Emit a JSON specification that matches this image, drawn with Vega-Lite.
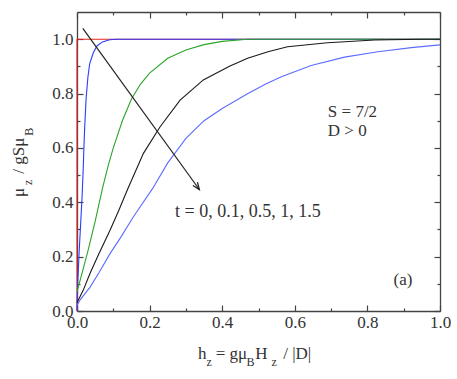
{
  "$schema": "https://vega.github.io/schema/vega-lite/v6.json",
  "autosize": {"type": "none"},
  "width": 363,
  "height": 299,
  "padding": {"left": 77, "top": 12, "right": 17, "bottom": 68},
  "background": "white",
  "config": {"view": {"stroke": null}, "font": "Liberation Serif", "axis": {"labelFont": "Liberation Serif"}, "text": {"font": "Liberation Serif"}},
  "data": {"values": [{}]},
  "datasets": {
    "curves": [
      {"t": "0", "i": 0, "h": 0, "m": 0},
      {"t": "0", "i": 1, "h": 0, "m": 1},
      {"t": "0", "i": 2, "h": 1, "m": 1},
      {"t": "0.1", "i": 0, "h": 0, "m": 0},
      {"t": "0.1", "i": 1, "h": 0.002, "m": 0.1},
      {"t": "0.1", "i": 2, "h": 0.006, "m": 0.22},
      {"t": "0.1", "i": 3, "h": 0.01, "m": 0.32},
      {"t": "0.1", "i": 4, "h": 0.014, "m": 0.42},
      {"t": "0.1", "i": 5, "h": 0.017, "m": 0.52},
      {"t": "0.1", "i": 6, "h": 0.019, "m": 0.6},
      {"t": "0.1", "i": 7, "h": 0.021, "m": 0.67},
      {"t": "0.1", "i": 8, "h": 0.025, "m": 0.78},
      {"t": "0.1", "i": 9, "h": 0.03, "m": 0.86},
      {"t": "0.1", "i": 10, "h": 0.035, "m": 0.91},
      {"t": "0.1", "i": 11, "h": 0.045, "m": 0.95},
      {"t": "0.1", "i": 12, "h": 0.055, "m": 0.975},
      {"t": "0.1", "i": 13, "h": 0.07, "m": 0.99},
      {"t": "0.1", "i": 14, "h": 0.09, "m": 0.998},
      {"t": "0.1", "i": 15, "h": 0.11, "m": 1.0},
      {"t": "0.1", "i": 16, "h": 1.0, "m": 1.0},
      {"t": "0.5", "i": 0, "h": 0, "m": 0.07},
      {"t": "0.5", "i": 1, "h": 0.01, "m": 0.12},
      {"t": "0.5", "i": 2, "h": 0.02, "m": 0.17},
      {"t": "0.5", "i": 3, "h": 0.03, "m": 0.22},
      {"t": "0.5", "i": 4, "h": 0.05, "m": 0.33},
      {"t": "0.5", "i": 5, "h": 0.07, "m": 0.45},
      {"t": "0.5", "i": 6, "h": 0.085, "m": 0.53},
      {"t": "0.5", "i": 7, "h": 0.1, "m": 0.6},
      {"t": "0.5", "i": 8, "h": 0.125, "m": 0.7},
      {"t": "0.5", "i": 9, "h": 0.15, "m": 0.78},
      {"t": "0.5", "i": 10, "h": 0.175, "m": 0.835},
      {"t": "0.5", "i": 11, "h": 0.2, "m": 0.875},
      {"t": "0.5", "i": 12, "h": 0.25, "m": 0.93},
      {"t": "0.5", "i": 13, "h": 0.3, "m": 0.96},
      {"t": "0.5", "i": 14, "h": 0.35, "m": 0.98},
      {"t": "0.5", "i": 15, "h": 0.4, "m": 0.992},
      {"t": "0.5", "i": 16, "h": 0.47, "m": 1.0},
      {"t": "0.5", "i": 17, "h": 1.0, "m": 1.0},
      {"t": "1", "i": 0, "h": 0, "m": 0.03},
      {"t": "1", "i": 1, "h": 0.017, "m": 0.076},
      {"t": "1", "i": 2, "h": 0.036, "m": 0.139},
      {"t": "1", "i": 3, "h": 0.06, "m": 0.21},
      {"t": "1", "i": 4, "h": 0.091, "m": 0.297},
      {"t": "1", "i": 5, "h": 0.115, "m": 0.37},
      {"t": "1", "i": 6, "h": 0.14, "m": 0.45},
      {"t": "1", "i": 7, "h": 0.183, "m": 0.58},
      {"t": "1", "i": 8, "h": 0.229, "m": 0.678},
      {"t": "1", "i": 9, "h": 0.284, "m": 0.776},
      {"t": "1", "i": 10, "h": 0.348, "m": 0.85},
      {"t": "1", "i": 11, "h": 0.42, "m": 0.9},
      {"t": "1", "i": 12, "h": 0.47, "m": 0.93},
      {"t": "1", "i": 13, "h": 0.526, "m": 0.954},
      {"t": "1", "i": 14, "h": 0.58, "m": 0.972},
      {"t": "1", "i": 15, "h": 0.69, "m": 0.987},
      {"t": "1", "i": 16, "h": 0.82, "m": 0.997},
      {"t": "1", "i": 17, "h": 0.95, "m": 1.0},
      {"t": "1", "i": 18, "h": 1.0, "m": 1.0},
      {"t": "1.5", "i": 0, "h": 0, "m": 0.02},
      {"t": "1.5", "i": 1, "h": 0.008, "m": 0.04},
      {"t": "1.5", "i": 2, "h": 0.036, "m": 0.088},
      {"t": "1.5", "i": 3, "h": 0.06, "m": 0.14},
      {"t": "1.5", "i": 4, "h": 0.091, "m": 0.211},
      {"t": "1.5", "i": 5, "h": 0.12, "m": 0.27},
      {"t": "1.5", "i": 6, "h": 0.155, "m": 0.346},
      {"t": "1.5", "i": 7, "h": 0.208, "m": 0.45},
      {"t": "1.5", "i": 8, "h": 0.25, "m": 0.545},
      {"t": "1.5", "i": 9, "h": 0.3, "m": 0.635},
      {"t": "1.5", "i": 10, "h": 0.35, "m": 0.7},
      {"t": "1.5", "i": 11, "h": 0.4, "m": 0.745},
      {"t": "1.5", "i": 12, "h": 0.471, "m": 0.8},
      {"t": "1.5", "i": 13, "h": 0.52, "m": 0.835},
      {"t": "1.5", "i": 14, "h": 0.563, "m": 0.862},
      {"t": "1.5", "i": 15, "h": 0.645, "m": 0.903},
      {"t": "1.5", "i": 16, "h": 0.737, "m": 0.934},
      {"t": "1.5", "i": 17, "h": 0.829, "m": 0.954},
      {"t": "1.5", "i": 18, "h": 0.921, "m": 0.969},
      {"t": "1.5", "i": 19, "h": 1.0, "m": 0.979}
    ]
  },
  "resolve": {"axis": {"x": "independent", "y": "independent"}},
  "layer": [
    {
      "data": {"name": "curves"},
      "mark": {"type": "line", "strokeWidth": 1.1},
      "encoding": {
        "x": {
          "field": "h", "type": "quantitative",
          "scale": {"domain": [0, 1], "nice": false, "zero": false},
          "axis": {
            "orient": "bottom", "title": null, "grid": false,
            "values": [0, 0.1, 0.2, 0.3, 0.4, 0.5, 0.6, 0.7, 0.8, 0.9, 1.0],
            "labelExpr": "round(datum.value*10) % 2 == 0 ? format(datum.value, '.1f') : ''",
            "tickSize": {"condition": {"test": "round(datum.value*10) % 2 == 0", "value": -6}, "value": -3},
            "labelFlush": false, "labelOverlap": false,
            "labelFont": "Liberation Serif", "labelFontSize": 17, "labelColor": "#333",
            "labelPadding": 9,
            "domainColor": "#444", "domainWidth": 1.3, "tickColor": "#444", "tickWidth": 1.2
          }
        },
        "y": {
          "field": "m", "type": "quantitative",
          "scale": {"domain": [0, 1.1], "nice": false, "zero": false},
          "axis": {
            "orient": "left", "title": null, "grid": false,
            "values": [0, 0.1, 0.2, 0.3, 0.4, 0.5, 0.6, 0.7, 0.8, 0.9, 1.0],
            "labelExpr": "round(datum.value*10) % 2 == 0 ? format(datum.value, '.1f') : ''",
            "tickSize": {"condition": {"test": "round(datum.value*10) % 2 == 0", "value": -6}, "value": -3},
            "labelOverlap": false, "labelFlush": false,
            "labelFont": "Liberation Serif", "labelFontSize": 17, "labelColor": "#333",
            "labelPadding": 10,
            "domainColor": "#444", "domainWidth": 1.3, "tickColor": "#444", "tickWidth": 1.2
          }
        },
        "color": {
          "field": "t", "type": "nominal", "legend": null,
          "scale": {"domain": ["0", "0.1", "0.5", "1", "1.5"], "range": ["#e8231f", "#2a3cff", "#2aa52a", "#1a1a1a", "#5c6cff"]}
        },
        "order": {"field": "i", "type": "quantitative"}
      }
    },
    {
      "data": {"name": "curves"},
      "mark": {"type": "point", "opacity": 0},
      "encoding": {
        "x": {
          "field": "h", "type": "quantitative",
          "scale": {"domain": [0, 1], "nice": false, "zero": false},
          "axis": {
            "orient": "top", "title": null, "grid": false, "labels": false,
            "values": [0, 0.1, 0.2, 0.3, 0.4, 0.5, 0.6, 0.7, 0.8, 0.9, 1.0],
            "tickSize": {"condition": {"test": "round(datum.value*10) % 2 == 0", "value": -6}, "value": -3},
            "domainColor": "#444", "domainWidth": 1.3, "tickColor": "#444", "tickWidth": 1.2
          }
        },
        "y": {
          "field": "m", "type": "quantitative",
          "scale": {"domain": [0, 1.1], "nice": false, "zero": false},
          "axis": {
            "orient": "right", "title": null, "grid": false, "labels": false,
            "values": [0, 0.1, 0.2, 0.3, 0.4, 0.5, 0.6, 0.7, 0.8, 0.9, 1.0],
            "tickSize": {"condition": {"test": "round(datum.value*10) % 2 == 0", "value": -6}, "value": -3},
            "domainColor": "#444", "domainWidth": 1.3, "tickColor": "#444", "tickWidth": 1.2
          }
        }
      }
    },
    {
      "mark": {"type": "rule", "color": "#222", "strokeWidth": 1.2},
      "encoding": {
        "x": {"datum": 0.016, "type": "quantitative", "axis": null, "scale": {"domain": [0, 1]}},
        "y": {"datum": 1.04, "type": "quantitative", "axis": null, "scale": {"domain": [0, 1.1]}},
        "x2": {"datum": 0.337},
        "y2": {"datum": 0.447}
      }
    },
    {
      "mark": {"type": "point", "shape": "M -0.4 1 L 0 0 L 0.4 1", "filled": false, "stroke": "#222", "strokeWidth": 1.3, "size": 200, "angle": 144, "opacity": 1},
      "encoding": {
        "x": {"datum": 0.337, "type": "quantitative", "axis": null, "scale": {"domain": [0, 1]}},
        "y": {"datum": 0.447, "type": "quantitative", "axis": null, "scale": {"domain": [0, 1.1]}}
      }
    },
    {
      "mark": {"type": "text", "font": "Liberation Serif", "fontSize": 17, "align": "left", "baseline": "alphabetic", "color": "#333"},
      "encoding": {
        "x": {"datum": 0.691, "type": "quantitative", "axis": null, "scale": {"domain": [0, 1]}},
        "y": {"datum": 0.713, "type": "quantitative", "axis": null, "scale": {"domain": [0, 1.1]}},
        "text": {"value": "S = 7/2"}
      }
    },
    {
      "mark": {"type": "text", "font": "Liberation Serif", "fontSize": 17, "align": "left", "baseline": "alphabetic", "color": "#333"},
      "encoding": {
        "x": {"datum": 0.691, "type": "quantitative", "axis": null, "scale": {"domain": [0, 1]}},
        "y": {"datum": 0.644, "type": "quantitative", "axis": null, "scale": {"domain": [0, 1.1]}},
        "text": {"value": "D > 0"}
      }
    },
    {
      "mark": {"type": "text", "font": "Liberation Serif", "fontSize": 18, "align": "left", "baseline": "alphabetic", "color": "#333"},
      "encoding": {
        "x": {"datum": 0.27, "type": "quantitative", "axis": null, "scale": {"domain": [0, 1]}},
        "y": {"datum": 0.345, "type": "quantitative", "axis": null, "scale": {"domain": [0, 1.1]}},
        "text": {"value": "t = 0, 0.1, 0.5, 1, 1.5"}
      }
    },
    {
      "mark": {"type": "text", "font": "Liberation Serif", "fontSize": 17, "align": "left", "baseline": "alphabetic", "color": "#333"},
      "encoding": {
        "x": {"datum": 0.872, "type": "quantitative", "axis": null, "scale": {"domain": [0, 1]}},
        "y": {"datum": 0.096, "type": "quantitative", "axis": null, "scale": {"domain": [0, 1.1]}},
        "text": {"value": "(a)"}
      }
    },
    {
      "mark": {"type": "text", "font": "Liberation Serif", "fontSize": 17, "align": "left", "baseline": "alphabetic", "color": "#333"},
      "encoding": {
        "x": {"datum": 0.333, "type": "quantitative", "axis": null, "scale": {"domain": [0, 1]}},
        "y": {"datum": -0.177, "type": "quantitative", "axis": null, "scale": {"domain": [0, 1.1]}},
        "text": {"value": "h"}
      }
    },
    {
      "mark": {"type": "text", "font": "Liberation Serif", "fontSize": 12, "align": "left", "baseline": "alphabetic", "color": "#333"},
      "encoding": {
        "x": {"datum": 0.357, "type": "quantitative", "axis": null, "scale": {"domain": [0, 1]}},
        "y": {"datum": -0.202, "type": "quantitative", "axis": null, "scale": {"domain": [0, 1.1]}},
        "text": {"value": "z"}
      }
    },
    {
      "mark": {"type": "text", "font": "Liberation Serif", "fontSize": 17, "align": "left", "baseline": "alphabetic", "color": "#333"},
      "encoding": {
        "x": {"datum": 0.382, "type": "quantitative", "axis": null, "scale": {"domain": [0, 1]}},
        "y": {"datum": -0.177, "type": "quantitative", "axis": null, "scale": {"domain": [0, 1.1]}},
        "text": {"value": "= gμ"}
      }
    },
    {
      "mark": {"type": "text", "font": "Liberation Serif", "fontSize": 12, "align": "left", "baseline": "alphabetic", "color": "#333"},
      "encoding": {
        "x": {"datum": 0.467, "type": "quantitative", "axis": null, "scale": {"domain": [0, 1]}},
        "y": {"datum": -0.202, "type": "quantitative", "axis": null, "scale": {"domain": [0, 1.1]}},
        "text": {"value": "B"}
      }
    },
    {
      "mark": {"type": "text", "font": "Liberation Serif", "fontSize": 17, "align": "left", "baseline": "alphabetic", "color": "#333"},
      "encoding": {
        "x": {"datum": 0.491, "type": "quantitative", "axis": null, "scale": {"domain": [0, 1]}},
        "y": {"datum": -0.177, "type": "quantitative", "axis": null, "scale": {"domain": [0, 1.1]}},
        "text": {"value": "H"}
      }
    },
    {
      "mark": {"type": "text", "font": "Liberation Serif", "fontSize": 12, "align": "left", "baseline": "alphabetic", "color": "#333"},
      "encoding": {
        "x": {"datum": 0.536, "type": "quantitative", "axis": null, "scale": {"domain": [0, 1]}},
        "y": {"datum": -0.202, "type": "quantitative", "axis": null, "scale": {"domain": [0, 1.1]}},
        "text": {"value": "z"}
      }
    },
    {
      "mark": {"type": "text", "font": "Liberation Serif", "fontSize": 17, "align": "left", "baseline": "alphabetic", "color": "#333"},
      "encoding": {
        "x": {"datum": 0.568, "type": "quantitative", "axis": null, "scale": {"domain": [0, 1]}},
        "y": {"datum": -0.177, "type": "quantitative", "axis": null, "scale": {"domain": [0, 1.1]}},
        "text": {"value": "/ |D|"}
      }
    },
    {
      "mark": {"type": "text", "font": "Liberation Serif", "fontSize": 17, "align": "left", "baseline": "alphabetic", "color": "#333", "angle": 270},
      "encoding": {
        "x": {"datum": -0.146, "type": "quantitative", "axis": null, "scale": {"domain": [0, 1]}},
        "y": {"datum": 0.419, "type": "quantitative", "axis": null, "scale": {"domain": [0, 1.1]}},
        "text": {"value": "μ"}
      }
    },
    {
      "mark": {"type": "text", "font": "Liberation Serif", "fontSize": 12, "align": "left", "baseline": "alphabetic", "color": "#333", "angle": 270},
      "encoding": {
        "x": {"datum": -0.124, "type": "quantitative", "axis": null, "scale": {"domain": [0, 1]}},
        "y": {"datum": 0.464, "type": "quantitative", "axis": null, "scale": {"domain": [0, 1.1]}},
        "text": {"value": "z"}
      }
    },
    {
      "mark": {"type": "text", "font": "Liberation Serif", "fontSize": 17, "align": "left", "baseline": "alphabetic", "color": "#333", "angle": 270},
      "encoding": {
        "x": {"datum": -0.146, "type": "quantitative", "axis": null, "scale": {"domain": [0, 1]}},
        "y": {"datum": 0.505, "type": "quantitative", "axis": null, "scale": {"domain": [0, 1.1]}},
        "text": {"value": "/ gSμ"}
      }
    },
    {
      "mark": {"type": "text", "font": "Liberation Serif", "fontSize": 12, "align": "left", "baseline": "alphabetic", "color": "#333", "angle": 270},
      "encoding": {
        "x": {"datum": -0.121, "type": "quantitative", "axis": null, "scale": {"domain": [0, 1]}},
        "y": {"datum": 0.645, "type": "quantitative", "axis": null, "scale": {"domain": [0, 1.1]}},
        "text": {"value": "B"}
      }
    }
  ]
}
